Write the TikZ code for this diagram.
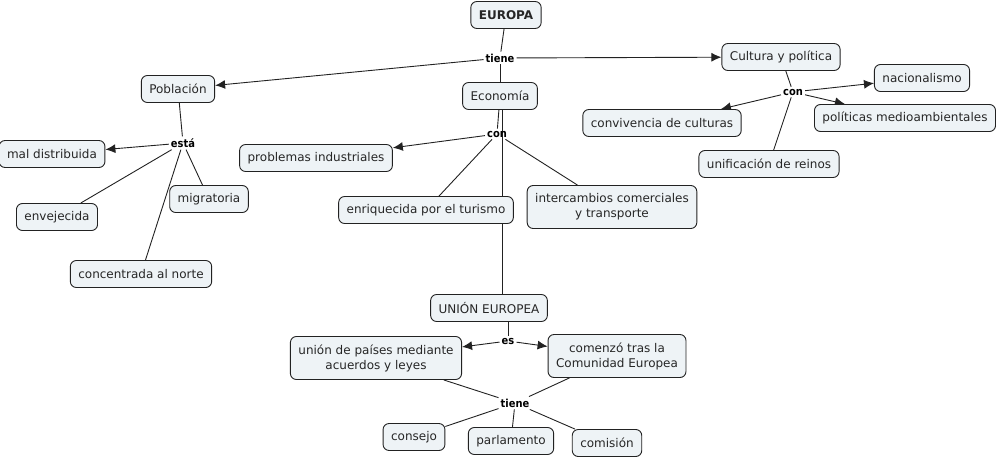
\documentclass[tikz,border=0pt]{standalone}
\usepackage{fontspec}
\setmainfont{DejaVu Sans}
\newfontfamily\linkfont{DejaVu Sans Condensed}
\usetikzlibrary{arrows.meta}
\pgfdeclarelayer{bg}
\pgfsetlayers{bg,main}
\definecolor{cfill}{HTML}{EEF3F6}
\definecolor{cline}{HTML}{222222}
\tikzset{
  concept/.style={draw=cline, fill=cfill, rounded corners=6pt, line width=0.9pt,
    inner xsep=8pt, inner ysep=0pt, minimum height=27pt, font=\fontsize{12}{15}\selectfont, align=center, text=black!85},
  linkp/.style={inner sep=2pt, font=\linkfont\bfseries\fontsize{11}{13}\selectfont},
  conn/.style={draw=cline, line width=0.9pt},
  arr/.style={conn, -{Latex[length=10pt,width=9pt]}},
}
\begin{document}
\begin{tikzpicture}[x=1pt,y=-1pt]
\useasboundingbox (0,0) rectangle (998,458);
% nodes
\node[concept] (europa) at (506,15) {\textbf{EUROPA}};
\node[linkp] (tiene1) at (500,58) {tiene};
\node[concept] (poblacion) at (178,89) {Población};
\node[concept] (economia) at (500,96) {Economía};
\node[concept] (cultura) at (781,57) {Cultura y política};
\node[linkp] (con1) at (497,134) {con};
\node[concept] (problemas) at (316,158) {problemas industriales};
\node[concept] (turismo) at (426,210) {enriquecida por el turismo};
\node[concept, minimum height=43pt] (intercambios) at (612,207) {intercambios comerciales\\y transporte};
\node[linkp] (esta) at (183,143) {está};
\node[concept] (mal) at (52,154) {mal distribuida};
\node[concept] (envejecida) at (57,217) {envejecida};
\node[concept] (migratoria) at (209,199) {migratoria};
\node[concept] (concentrada) at (141,274) {concentrada al norte};
\node[linkp] (con2) at (793,92) {con};
\node[concept] (nacionalismo) at (922,78) {nacionalismo};
\node[concept] (politicas) at (905,118) {políticas medioambientales};
\node[concept] (convivencia) at (662,123) {convivencia de culturas};
\node[concept] (unificacion) at (769,164) {unificación de reinos};
\node[concept] (ue) at (489,308) {UNIÓN EUROPEA};
\node[linkp] (es) at (508,341) {es};
\node[concept, minimum height=43pt] (union) at (376,358) {unión de países mediante\\acuerdos y leyes};
\node[concept, minimum height=43pt] (comenzo) at (617,356) {comenzó tras la\\Comunidad Europea};
\node[linkp] (tiene2) at (515,403) {tiene};
\node[concept] (consejo) at (414,437) {consejo};
\node[concept] (parlamento) at (511,441) {parlamento};
\node[concept] (comision) at (607,443) {comisión};
% connectors
\begin{pgfonlayer}{bg}
\draw[conn] (europa) -- (tiene1);
\draw[conn] (tiene1) -- (economia);
\draw[arr] (tiene1) -- (poblacion);
\draw[arr] (tiene1) -- (cultura);
\draw[conn] (poblacion) -- (esta);
\draw[arr] (esta) -- (mal);
\draw[conn] (esta) -- (envejecida);
\draw[conn] (esta) -- (migratoria);
\draw[conn] (esta) -- (concentrada);
\draw[conn] (economia) -- (con1);
\draw[arr] (con1) -- (problemas);
\draw[conn] (con1) -- (turismo);
\draw[conn] (con1) -- (intercambios);
\draw[conn] (economia.south -| 502,0) -- (ue.north -| 502,0);
\draw[conn] (cultura) -- (con2);
\draw[arr] (con2) -- (nacionalismo);
\draw[arr] (con2) -- (politicas);
\draw[arr] (con2) -- (convivencia);
\draw[conn] (con2) -- (unificacion);
\draw[conn] (ue.south -| es) -- (es);
\draw[arr] (es) -- (union);
\draw[arr] (es) -- (comenzo);
\draw[conn] (union) -- (tiene2);
\draw[conn] (comenzo) -- (tiene2);
\draw[conn] (tiene2) -- (consejo);
\draw[conn] (tiene2) -- (parlamento);
\draw[conn] (tiene2) -- (comision);
\end{pgfonlayer}
\end{tikzpicture}
\end{document}
